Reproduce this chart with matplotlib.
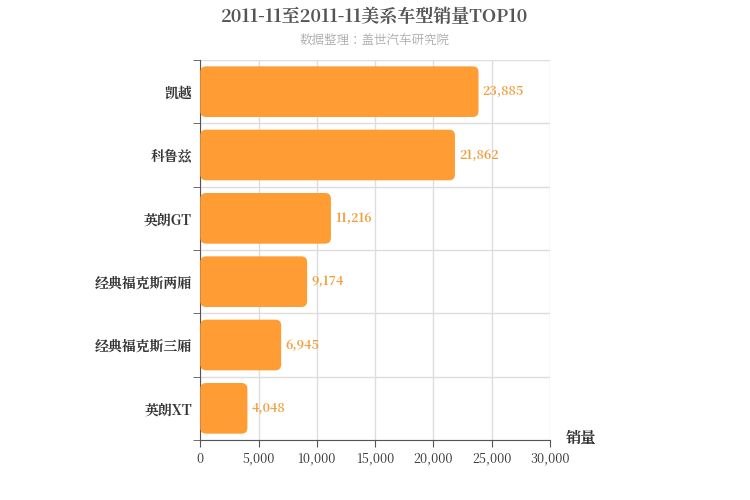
import matplotlib
matplotlib.use("Agg")
import matplotlib.pyplot as plt
from matplotlib import font_manager
from matplotlib.patches import FancyBboxPatch

# find whichever CJK family matplotlib actually knows about
cjk = [f.name for f in font_manager.fontManager.ttflist if "CJK" in f.name]
cjk_name = "Noto Sans CJK SC" if "Noto Sans CJK SC" in cjk else (cjk[0] if cjk else "DejaVu Sans")
plt.rcParams["font.family"] = [cjk_name, "DejaVu Sans"]

categories = ["凯越", "科鲁兹", "英朗GT", "经典福克斯两厢", "经典福克斯三厢", "英朗XT"]
sales = [23885, 21862, 11216, 9174, 6945, 4048]
xticks = [0, 5000, 10000, 15000, 20000, 25000, 30000]

fig = plt.figure(figsize=(7.5, 5), dpi=100)
ax = fig.add_axes([0.267, 0.12, 0.466, 0.76])

n = len(categories)
ax.set_xlim(0, 30000)
ax.set_ylim(-0.5, n - 0.5)

# y scale per pixel vs x scale per pixel, for round corners
aspect = (n / 380) / (30000 / 350)
for i, v in enumerate(sales):
    y = n - 1 - i
    box = FancyBboxPatch((0, y - 0.4), v, 0.8,
                         boxstyle="round,pad=0,rounding_size=500",
                         mutation_aspect=aspect,
                         fc="#ff9c33", ec="none", zorder=3)
    ax.add_patch(box)
    ax.text(v + 350, y, f"{v:,}", va="center", ha="left",
            color="#f0a040", fontsize=9, fontweight="bold", zorder=4)

ax.set_yticks(range(n))
ax.set_yticklabels(categories[::-1], fontsize=10, fontweight="bold", color="#333")
ax.set_yticks([k - 0.5 for k in range(n + 1)], minor=True)
ax.tick_params(axis="y", which="major", length=0, pad=6)
ax.tick_params(axis="y", which="minor", length=5, color="#555")
ax.set_xticks(xticks)
ax.set_xticklabels([f"{t:,}" for t in xticks], fontsize=9, color="#333")
ax.tick_params(axis="x", length=5, color="#555")

ax.grid(axis="x", color="#ddd", lw=1, zorder=0)
ax.grid(axis="y", which="minor", color="#ddd", lw=1, zorder=0)
for s in ["top", "right"]:
    ax.spines[s].set_visible(False)
ax.spines["left"].set_color("#555")
ax.spines["bottom"].set_color("#555")

fig.text(0.5, 0.955, "2011-11至2011-11美系车型销量TOP10", ha="center",
         fontsize=13, fontweight="bold", color="#555")
fig.text(0.5, 0.91, "数据整理：盖世汽车研究院", ha="center", fontsize=9, color="#aaa")
fig.text(0.775, 0.115, "销量", ha="center", fontsize=11, fontweight="bold", color="#333")

fig.savefig("out.png", dpi=100)
